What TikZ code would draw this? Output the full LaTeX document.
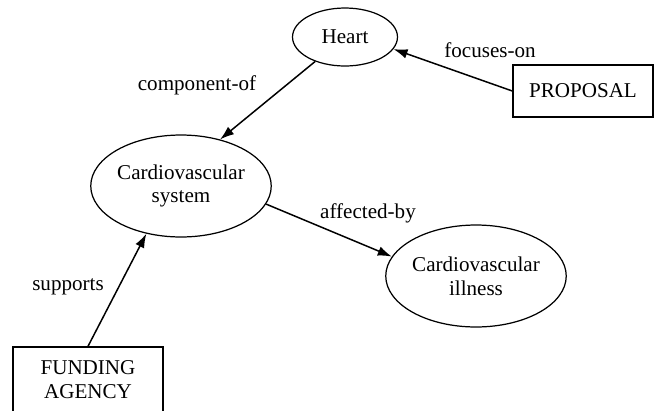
\documentclass[tikz,border=0pt]{standalone}
\usepackage{fontspec}
\setmainfont{Liberation Serif}
\usetikzlibrary{shapes.geometric,arrows.meta}

\begin{document}
\begin{tikzpicture}[x=0.02cm,y=-0.02cm,
    font=\fontsize{12}{13.6}\selectfont,
    concept/.style={draw,ellipse,line width=0.7pt,inner sep=0pt,align=center},
    actor/.style={draw,rectangle,line width=0.8pt,inner sep=0pt,align=center},
    rel/.style={line width=0.85pt,-{Latex[length=8pt,width=5.5pt]}}]
                    \clip (0,0) rectangle (657,410);

                    \node[concept,minimum width=2.1cm,minimum height=1.16cm] (heart) at (345,37) {Heart};
                    \node[concept,minimum width=3.56cm,minimum height=2.04cm] (cvs) at (181,186) {Cardiovascular\\system};
                    \node[concept,minimum width=3.54cm,minimum height=2.04cm] (ill) at (476,276) {Cardiovascular\\illness};
                    \node[actor,minimum width=2.8cm,minimum height=1.04cm] (prop) at (583,91) {PROPOSAL};
                    \node[actor,minimum width=3cm,minimum height=1.32cm] (fund) at (88,380) {FUNDING\\AGENCY};

                    \draw[rel] (heart) -- (cvs.50);
                    \draw[rel] (prop.west) -- (heart.-14);
                    \draw[rel] (cvs.-12) -- (ill.167);
                    \draw[rel] (fund.north) -- (cvs.234);

                    \node (compof) at (197,85) {component-of};
                    \node (focon) at (490,50) {focuses-on};
                    \node (affby) at (368,213) {affected-by};
                    \node (supp) at (68,287) {supports};
                \end{tikzpicture}
\end{document}
